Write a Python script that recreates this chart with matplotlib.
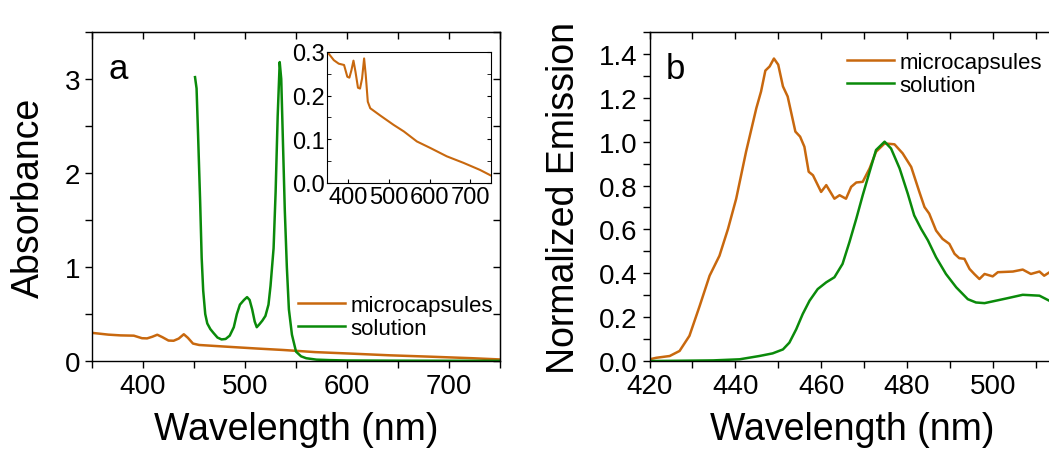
import numpy as np
import matplotlib.pyplot as plt
from matplotlib.ticker import MultipleLocator, NullFormatter

plt.rcParams['font.family'] = ['Liberation Sans', 'DejaVu Sans']

ORANGE = "#C8680E"
GREEN = "#0A8A0A"

# absorbance, microcapsules (350-750 nm)
abs_mc_x = [350, 366, 378, 391, 399, 404, 409, 414, 419, 425, 430, 435, 440, 444,
            449, 455, 480, 512, 537, 569, 602, 642, 683, 723, 750]
abs_mc_y = [0.300, 0.281, 0.273, 0.270, 0.243, 0.241, 0.258, 0.280, 0.254, 0.218,
            0.216, 0.239, 0.285, 0.247, 0.186, 0.171, 0.154, 0.133, 0.118, 0.095,
            0.080, 0.061, 0.046, 0.030, 0.017]

# absorbance, solution
abs_sol_x = [451, 452.5, 454, 456, 457.5, 459, 461, 463, 466, 469, 473, 477, 481, 485,
             489, 492, 495, 499, 502, 504.5, 507, 509.5, 511.5, 514, 517, 520, 523,
             525, 528, 530, 532, 534, 535.5, 537, 539, 541, 543, 546, 550, 555, 560,
             570, 583, 600, 650, 700, 750]
abs_sol_y = [3.02, 2.90, 2.40, 1.70, 1.10, 0.75, 0.50, 0.40, 0.34, 0.30, 0.25, 0.23,
             0.235, 0.27, 0.36, 0.50, 0.60, 0.65, 0.68, 0.65, 0.55, 0.42, 0.36, 0.39,
             0.43, 0.48, 0.60, 0.80, 1.20, 1.80, 2.60, 3.18, 3.00, 2.40, 1.60, 1.00,
             0.55, 0.28, 0.10, 0.05, 0.03, 0.015, 0.01, 0.006, 0.004, 0.003, 0.002]

# normalized emission, microcapsules
em_mc_x = [420, 421.6, 424.7, 427, 429.3, 431.7, 434, 436.3, 438.3, 440.2, 442.5, 444.9,
           446, 447, 448, 449, 450, 451.1, 452.2, 454, 455.1, 456.1, 457.1, 458.1, 460,
           461.2, 463.1, 464.3, 465.8, 467, 468.2, 469.7, 471.3, 472.8, 474.8, 477.1,
           479, 481, 482.9, 484.1, 485.2, 486.8, 488.3, 489.9, 491.1, 492.2, 493.4,
           494.6, 495.7, 496.9, 498.1, 500, 501.2, 504.7, 507, 508.9, 510.9, 512, 513.5]
em_mc_y = [0.008, 0.015, 0.023, 0.046, 0.115, 0.252, 0.389, 0.48, 0.603, 0.74, 0.954,
           1.153, 1.229, 1.324, 1.343, 1.379, 1.351, 1.252, 1.206, 1.046, 1.023, 0.977,
           0.863, 0.847, 0.771, 0.802, 0.74, 0.756, 0.74, 0.794, 0.814, 0.817, 0.878,
           0.954, 0.992, 0.988, 0.947, 0.885, 0.771, 0.702, 0.672, 0.595, 0.557, 0.534,
           0.489, 0.469, 0.466, 0.42, 0.397, 0.374, 0.397, 0.386, 0.405, 0.408, 0.417,
           0.397, 0.408, 0.389, 0.408]

# normalized emission, solution
em_sol_x = [420, 434.8, 441, 445.6, 448.7, 451.1, 452.6, 454.2, 455.7, 457.3, 459.2,
            461.2, 463.1, 465, 466.6, 468.2, 469.7, 471.3, 472.8, 474.8, 476.3, 478.3,
            480.2, 481.7, 483.3, 484.9, 486.8, 489.1, 491.5, 494.2, 496.1, 498.1, 500,
            503.1, 507, 510.9, 513.5]
em_sol_y = [0.0, 0.003, 0.008, 0.023, 0.035, 0.053, 0.084, 0.145, 0.214, 0.275, 0.328,
            0.359, 0.382, 0.443, 0.542, 0.649, 0.756, 0.863, 0.962, 1.0, 0.969, 0.878,
            0.763, 0.664, 0.603, 0.55, 0.473, 0.397, 0.336, 0.282, 0.267, 0.264, 0.272,
            0.285, 0.302, 0.298, 0.272]

fig = plt.figure(figsize=(10.49, 4.52), dpi=100)


def style(ax, xmaj, xmin, ymaj, ymin, size=20, mirror_y=True):
    # ticks out on bottom/left, mirrored inward on top/right (Origin style)
    ax.xaxis.set_major_locator(MultipleLocator(xmaj))
    ax.xaxis.set_minor_locator(MultipleLocator(xmin))
    ax.yaxis.set_major_locator(MultipleLocator(ymaj))
    ax.yaxis.set_minor_locator(MultipleLocator(ymin))
    ax.tick_params(axis="both", which="both", labelsize=size, width=1, length=5,
                   direction="out")
    for s in ax.spines.values():
        s.set_linewidth(1)
    top = ax.secondary_xaxis("top")
    top.xaxis.set_major_locator(MultipleLocator(xmaj))
    top.xaxis.set_minor_locator(MultipleLocator(xmin))
    top.xaxis.set_major_formatter(NullFormatter())
    top.tick_params(axis="x", which="both", direction="in", length=5, width=1)
    if mirror_y:
        right = ax.secondary_yaxis("right")
        right.yaxis.set_major_locator(MultipleLocator(ymaj))
        right.yaxis.set_minor_locator(MultipleLocator(ymin))
        right.yaxis.set_major_formatter(NullFormatter())
        right.tick_params(axis="y", which="both", direction="in", length=5, width=1)
    else:
        ax.spines["right"].set_visible(False)


# panel a
ax1 = fig.add_axes([0.0877, 0.199, 0.389, 0.728])
ax1.plot(abs_mc_x, abs_mc_y, color=ORANGE, lw=1.8, label="microcapsules")
ax1.plot(abs_sol_x, abs_sol_y, color=GREEN, lw=1.8, label="solution")
ax1.set_xlim(350, 750)
ax1.set_ylim(0, 3.5)
style(ax1, 100, 50, 1, 0.5)
ax1.set_xlabel("Wavelength (nm)", fontsize=27)
ax1.set_ylabel("Absorbance", fontsize=27)
ax1.xaxis.set_label_coords(0.5, -0.152)
ax1.yaxis.set_label_coords(-0.11, 0.5)
ax1.text(0.04, 0.94, "a", transform=ax1.transAxes, fontsize=25, va="top")
ax1.legend(loc="center left", bbox_to_anchor=(0.505, 0.135), frameon=False,
           fontsize=16, handlelength=2.1, handletextpad=0.25, labelspacing=0.1,
           borderpad=0, borderaxespad=0)

# inset
axi = fig.add_axes([0.312, 0.593, 0.156, 0.29])
axi.plot(abs_mc_x, abs_mc_y, color=ORANGE, lw=1.5)
axi.set_xlim(350, 750)
axi.set_ylim(0, 0.3)
axi.xaxis.set_major_locator(MultipleLocator(100))
axi.yaxis.set_minor_locator(MultipleLocator(0.05))
axi.set_yticks([0.0, 0.1, 0.2, 0.3], ["0.0", "0.1", "0.2", "0.3"])
axi.tick_params(axis="both", which="both", labelsize=17, direction="in", length=3, pad=2)
axi.tick_params(axis="y", which="both", right=True)
for s in axi.spines.values():
    s.set_linewidth(0.8)

# panel b
ax2 = fig.add_axes([0.6192, 0.199, 0.3856, 0.728])
ax2.plot(em_mc_x, em_mc_y, color=ORANGE, lw=1.8, label="microcapsules")
ax2.plot(em_sol_x, em_sol_y, color=GREEN, lw=1.8, label="solution")
ax2.set_xlim(420, 514.3)
ax2.set_ylim(0, 1.5)
style(ax2, 20, 10, 0.2, 0.1, mirror_y=False)
ax2.yaxis.set_major_formatter(lambda v, p: f"{v:.1f}")
ax2.set_xlabel("Wavelength (nm)", fontsize=27)
ax2.set_ylabel("Normalized Emission", fontsize=27)
ax2.xaxis.set_label_coords(0.5, -0.152)
ax2.yaxis.set_label_coords(-0.167, 0.5)
ax2.text(0.04, 0.94, "b", transform=ax2.transAxes, fontsize=25, va="top")
ax2.legend(loc="center left", bbox_to_anchor=(0.488, 0.872), frameon=False,
           fontsize=16, handlelength=2.1, handletextpad=0.25, labelspacing=0.1,
           borderpad=0, borderaxespad=0)

plt.savefig("out.png", dpi=100)
